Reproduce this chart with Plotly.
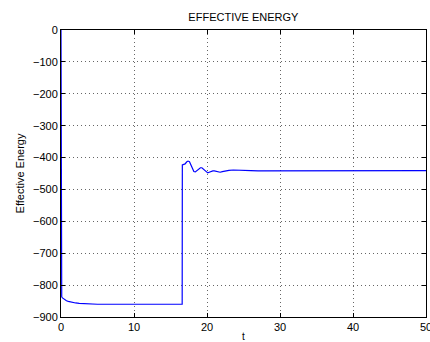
import plotly.graph_objects as go

t = [0, 0.02, 0.05, 0.1, 0.2, 0.35, 0.5, 0.75, 1, 1.3, 1.6, 2, 2.5, 3, 4, 5, 8, 12, 16.6,
     16.62, 16.8, 17.0, 17.2, 17.4, 17.6, 17.8, 18.0, 18.2, 18.4, 18.6, 18.9,
     19.1, 19.3, 19.5, 19.7, 19.9, 20.1, 20.3, 20.6, 20.8, 21.0, 21.2, 21.4,
     21.6, 21.8, 22.1, 22.5, 23.0, 23.6, 24.3, 25, 26, 27, 28.5, 30, 35, 40, 45, 50]
energy = [0, -400, -835, -837, -840, -843, -846, -849, -851, -853, -855, -856, -857,
          -858, -859, -860, -860, -860, -860,
          -423, -422, -420, -414, -411, -413, -422, -436, -444, -445, -441, -435,
          -432, -432, -436, -442, -447, -448, -446, -443, -442, -442, -443, -445,
          -446, -446, -444, -442, -440, -439, -439, -440, -441, -442, -442, -442,
          -441, -441, -441, -441]

x_ticks = [0, 10, 20, 30, 40, 50]
y_ticks = [0, -100, -200, -300, -400, -500, -600, -700, -800, -900]

font = dict(family="Liberation Sans, Arial, sans-serif", size=11, color="black")

fig = go.Figure()
fig.add_trace(go.Scatter(x=t, y=energy, mode="lines",
                         line=dict(color="#0000ff", width=1.2),
                         showlegend=False))

axis_common = dict(showline=True, linecolor="black", linewidth=1, mirror="ticks",
                   ticks="inside", ticklen=4, tickcolor="black",
                   showgrid=True, gridcolor="rgba(0,0,0,0.6)", griddash="1px,3px",
                   gridwidth=1, zeroline=False, tickfont=font,
                   ticklabeloverflow="allow", automargin=False)

fig.update_layout(
    width=430, height=342,
    margin=dict(l=61, r=4, t=30, b=25),
    paper_bgcolor="white", plot_bgcolor="white",
    font=font,
    title=dict(text="EFFECTIVE ENERGY", x=0.566, xanchor="center",
               y=1 - 17 / 342, yanchor="middle", font=dict(size=11)),
    xaxis=dict(range=[0, 50], tickvals=x_ticks, **axis_common,
               title=dict(text="t", standoff=4, font=dict(size=10))),
    yaxis=dict(range=[-900, 0], tickvals=y_ticks, **axis_common,
               title=dict(text="Effective Energy", standoff=6, font=dict(size=11))),
)

fig.write_html("out.html")
